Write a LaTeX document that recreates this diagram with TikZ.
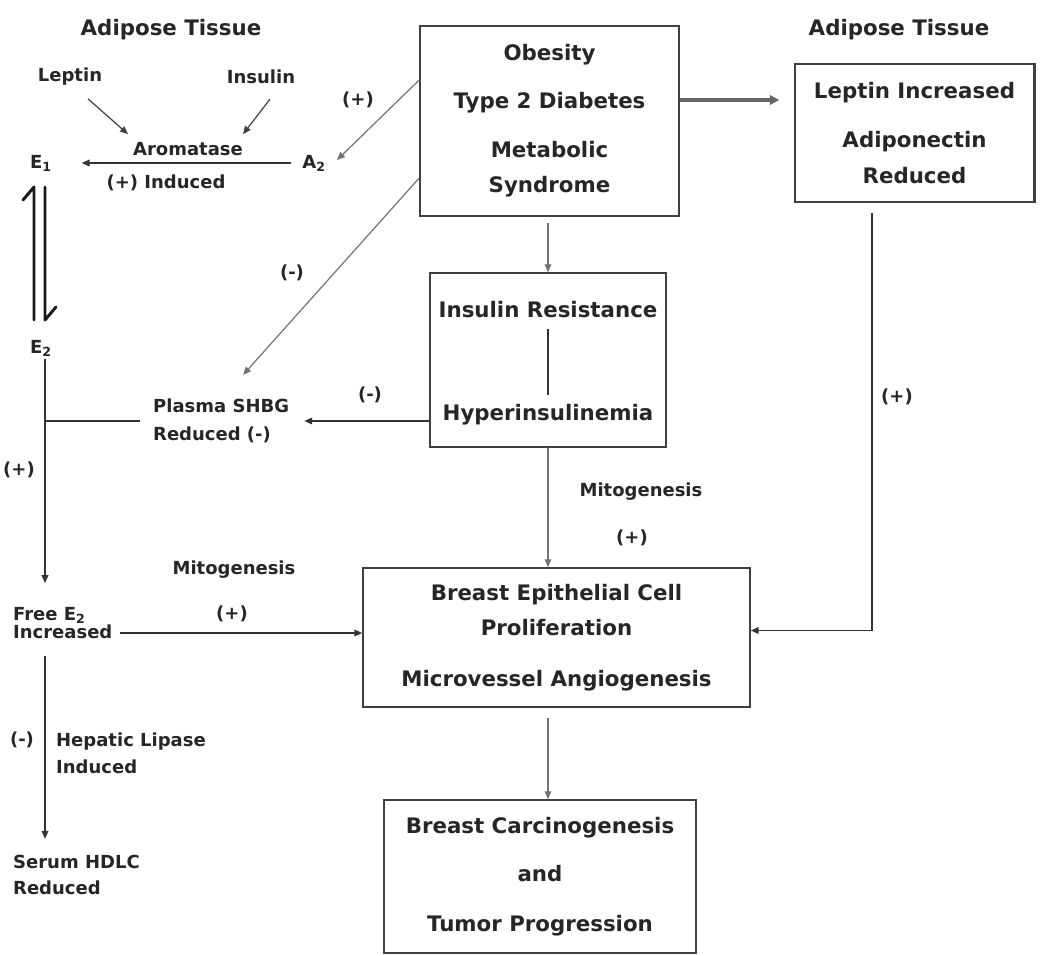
\documentclass[tikz,border=0pt]{standalone}
\usepackage{fontspec}
\setmainfont{DejaVu Sans}
\usetikzlibrary{arrows.meta}

\tikzset{every picture/.style={line width=0.75pt}}
\newcommand{\bigtxt}{\fontsize{16}{19}\selectfont\bfseries}
\newcommand{\smalltxt}{\fontsize{13.5}{20.25}\selectfont\bfseries}

\tikzset{
  lbl/.style={inner sep=2pt, text=black!85, font=\smalltxt},
  ttl/.style={inner sep=2pt, text=black!85, font=\bigtxt},
  box/.style={draw=black!75, line width=1.1pt, align=center, inner sep=0pt, text=black!85, font=\bigtxt},
  darkarr/.style={draw=black!80, line width=1.2pt, -{Triangle[length=6pt,width=5pt]}},
  darkline/.style={draw=black!80, line width=1.2pt},
  thinarr/.style={draw=black!55, line width=0.9pt, -{Triangle[length=6pt,width=5pt]}},
  widearr/.style={draw=black!60, line width=2.4pt, -{Triangle[length=7pt,width=7pt]}},
  eqline/.style={draw=black!90, line width=2.2pt, line cap=round, line join=round}
}

\begin{document}
\begin{tikzpicture}[x=0.75pt,y=0.75pt,yscale=-1,xscale=1]
\useasboundingbox (0,0) rectangle (1040,956);

% Titles
\draw (171,30) node [ttl] (tisL) {Adipose Tissue};
\draw (899,30) node [ttl] (tisR) {Adipose Tissue};

%Boxes
\draw (549.5,121) node [box, minimum width=194.25pt, minimum height=142.5pt] (obes) {Obesity\\[17pt]Type 2 Diabetes\\[17.75pt]Metabolic\\[7.25pt]Syndrome};
\draw (914.5,133) node [box, minimum width=179.25pt, minimum height=103.5pt] (lepbox) {Leptin Increased\\[17.75pt]Adiponectin\\[8pt]Reduced};
\draw [draw=black!75, line width=1.8pt] (lepbox.north east) -- (lepbox.south east);
\draw (548,360) node [box, minimum width=177pt, minimum height=130.5pt] (insbox) {};
\draw (556.5,637.5) node [box, minimum width=290.25pt, minimum height=104.25pt] (breast) {Breast Epithelial Cell\\[7.25pt]Proliferation\\[19.25pt]Microvessel Angiogenesis};
\draw (540,876.5) node [box, minimum width=234pt, minimum height=114.75pt] (carc) {Breast Carcinogenesis\\[17pt]and\\[18.5pt]Tumor Progression};

% Text Node
\draw (548,310) node [ttl] (insres) {Insulin Resistance};
% Text Node
\draw (548,415) node [ttl] (hyper) {Hyperinsulinemia};

% Left side labels
\draw (70,77) node [lbl] (lep) {Leptin};
\draw (261,77) node [lbl] (ins) {Insulin};
\draw (188,149) node [lbl] (aro) {Aromatase};
\draw (41,163) node [lbl] (e1) {E\textsubscript{1}};
\draw (314,163) node [lbl] (a2) {A\textsubscript{2}};
\draw (166,183) node [lbl] (ind) {(+) Induced};
\draw (41,348) node [lbl] (e2) {E\textsubscript{2}};
\draw (150,421) node [lbl, anchor=west, align=left] (shbg) {Plasma SHBG\\[0.75pt]Reduced (-)};
\draw (10,623) node [lbl, anchor=west, align=left] (freee2) {Free E\textsubscript{2}\\[-6.75pt]Increased};
\draw (53,753) node [lbl, anchor=west, align=left] (hepl) {Hepatic Lipase\\[0pt]Induced};
\draw (10,875) node [lbl, anchor=west, align=left] (serum) {Serum HDLC\\[-0.5pt]Reduced};

% Sign labels
\draw (358,100) node [lbl] (plusA) {(+)};
\draw (292,273) node [lbl] (minusA) {(-)};
\draw (370,395) node [lbl] (minusB) {(-)};
\draw (19,470) node [lbl] (plusC) {(+)};
\draw (234,570) node [lbl] (mitoL) {Mitogenesis};
\draw (232,614) node [lbl] (plusD) {(+)};
\draw (641,492) node [lbl] (mitoR) {Mitogenesis};
\draw (632,538) node [lbl] (plusE) {(+)};
\draw (897,397) node [lbl] (plusF) {(+)};
\draw (22,740) node [lbl] (minusC) {(-)};

\coordinate (col) at (45,0);
\coordinate (fe) at ([shift={(4,10)}]freee2.east);

% Aromatase inputs
\draw [thinarr, draw=black!75] ([shift={(18,10)}]lep.south) -- ([shift={(-60,-5)}]aro.north);
\draw [thinarr, draw=black!75] ([shift={(9,12)}]ins.south) -- ([shift={(55,-5)}]aro.north);
\draw [darkarr, shorten <=6pt, shorten >=20pt] (a2) -- (e1);

% E1 / E2 equilibrium
\draw [eqline] ([shift={(-7,-28)}]e2.center) -- ([shift={(-7,24)}]e1.center) -- ++(-11,13);
\draw [eqline] ([shift={(4,24)}]e1.center) -- ([shift={(4,-28)}]e2.center) -- ++(11,-13);

% Diagonals from the obesity box
\draw [thinarr] ([shift={(0,-41)}]obes.west) -- ([shift={(23,-3)}]a2.center);
\draw [thinarr] ([shift={(0,57)}]obes.west) -- ([shift={(22,-21)}]shbg.north);

% Obesity to adipose tissue and insulin box
\draw [widearr, shorten >=11.25pt] ([shift={(0,-21)}]obes.east) -- ([shift={(0,-21)}]obes.east -| lepbox.west);
\draw [thinarr, shorten <=5pt] (obes.south -| insbox) -- (insbox.north);
\draw [darkline, line width=1pt, shorten <=6pt, shorten >=5pt] (insres.south) -- (hyper.north);

% Insulin box to SHBG and breast
\draw [darkarr, shorten >=9pt] ([shift={(0,61)}]insbox.west) -- ([shift={(0,61)}]insbox.west -| shbg.east);
\draw [thinarr] (insbox.south) -- (insbox.south |- breast.north);
\draw [thinarr, shorten <=7.5pt] (breast.south -| insbox) -- (carc.north -| insbox);

% Leptin box down to breast
\draw [darkarr] ([shift={(-42.5,10)}]lepbox.south) |- ([shift={(0,-7)}]breast.east);

% Left column
\draw [darkline, shorten <=7.5pt] (shbg.west) -- (shbg.west -| col);
\draw [darkarr, shorten >=15.75pt] (e2.south -| col) -- (freee2.north -| col);
\draw [darkarr] (fe) -- (fe -| breast.west);
\draw [darkarr, shorten <=10.5pt, shorten >=9.75pt] (freee2.south -| col) -- (serum.north -| col);

\end{tikzpicture}
\end{document}
